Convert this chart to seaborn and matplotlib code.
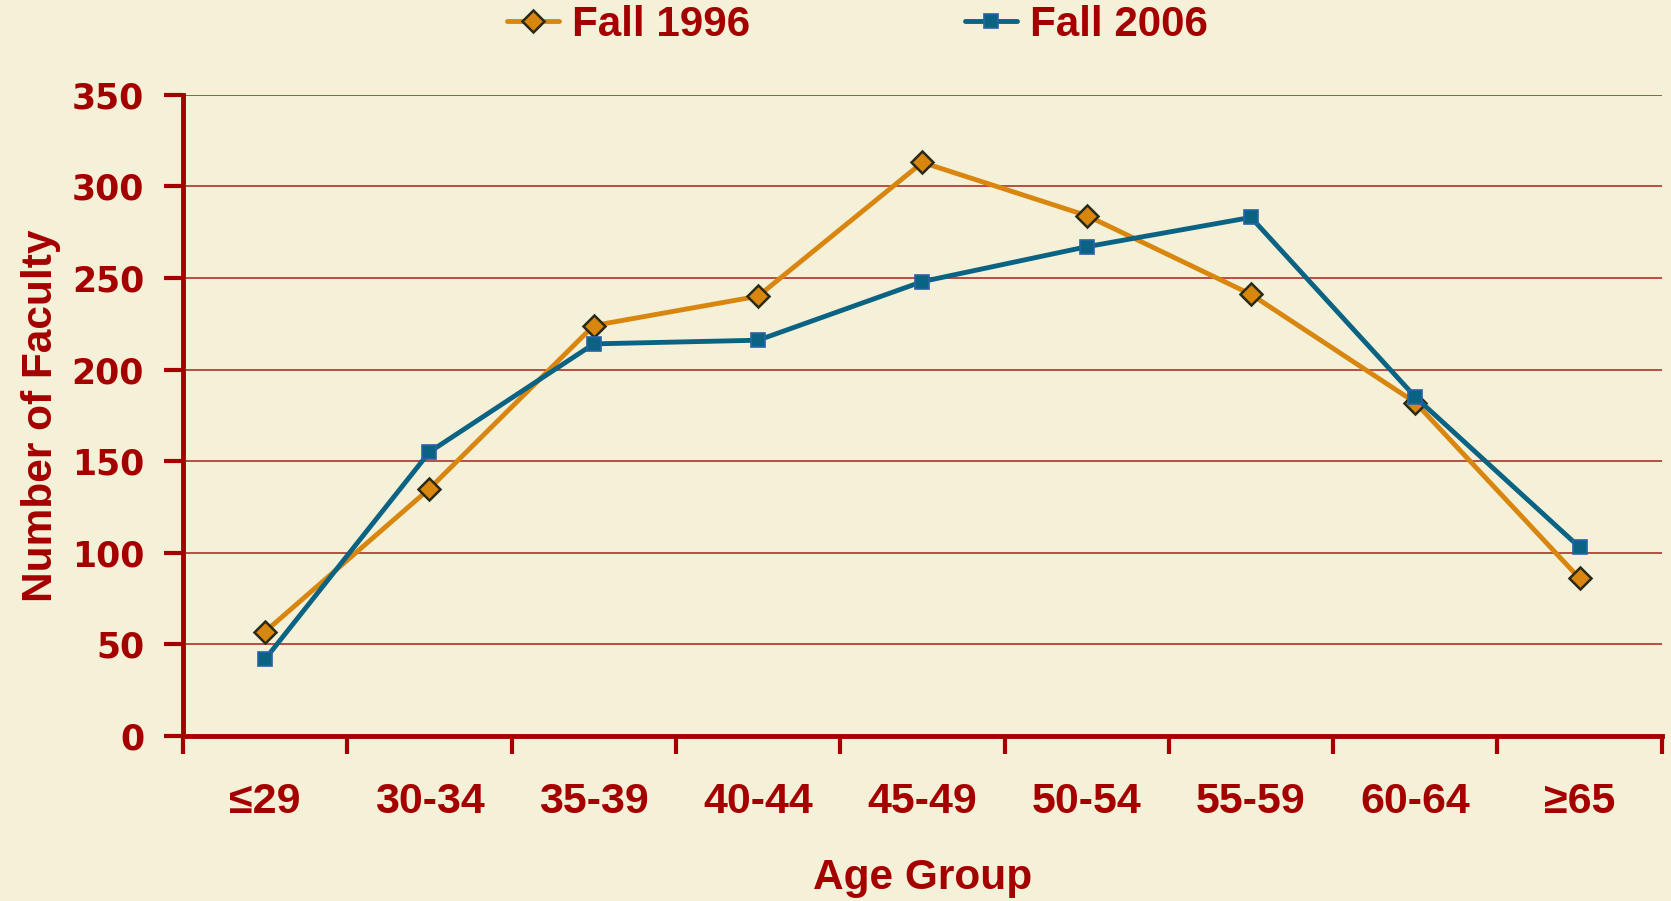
import numpy as np
import pandas as pd
import seaborn as sns
import matplotlib
matplotlib.use("Agg")
import matplotlib.pyplot as plt

# données
age_groups = ["≤29", "30-34", "35-39", "40-44", "45-49", "50-54", "55-59", "60-64", "≥65"]
fall_1996 = [57, 135, 224, 240, 313, 284, 241, 182, 86]
fall_2006 = [42, 155, 214, 216, 248, 267, 283, 185, 103]
y_ticks = [0, 50, 100, 150, 200, 250, 300, 350]

BG = "#F5F0D8"
RED = "#A50000"
ORANGE = "#D9860F"
BLUE = "#0B6383"

sns.set_theme(style="white")
plt.rcParams["font.family"] = ["Liberation Sans", "DejaVu Sans"]
plt.rcParams["font.weight"] = "bold"

df = pd.DataFrame({
    "pos": np.arange(len(age_groups)),
    "Fall 1996": fall_1996,
    "Fall 2006": fall_2006,
})

fig = plt.figure(figsize=(16.71, 9.01), dpi=100, facecolor=BG)
ax = fig.add_axes([0.1095, 0.183, 0.885, 0.712])
ax.set_facecolor(BG)

sns.lineplot(data=df, x="pos", y="Fall 1996", ax=ax, color=ORANGE, lw=3.5,
             marker="D", markersize=11.5, markerfacecolor=ORANGE,
             markeredgecolor="#2a2a18", markeredgewidth=1.8, label="Fall 1996")
sns.lineplot(data=df, x="pos", y="Fall 2006", ax=ax, color=BLUE, lw=3.5,
             marker="s", markersize=10.5, markerfacecolor=BLUE,
             markeredgecolor="#2a62a8", markeredgewidth=1.2, label="Fall 2006")

ax.set_xlim(-0.5, len(age_groups) - 0.5)
ax.set_ylim(0, 350)
ax.set_yticks(y_ticks)
ax.set_yticklabels([str(v) for v in y_ticks], family="DejaVu Sans",
                   fontweight="bold", fontsize=25, color=RED)
ax.yaxis.grid(True, color="#B0302A", lw=1.2)
ax.set_axisbelow(True)

# ticks aux frontières, étiquettes au centre
ax.set_xticks(np.arange(-0.5, len(age_groups), 1))
ax.set_xticklabels([])
ax.set_xticks(np.arange(len(age_groups)), minor=True)
ax.set_xticklabels(age_groups, minor=True, fontsize=31, fontweight="bold", color=RED)
ax.tick_params(axis="x", which="minor", length=0, pad=33)
ax.tick_params(axis="x", which="major", direction="out", length=13, width=3, color=RED, bottom=True)
ax.tick_params(axis="y", direction="out", length=14, width=3, color=RED, left=True, pad=14)

for s in ["top", "right"]:
    ax.spines[s].set_visible(False)
for s in ["left", "bottom"]:
    ax.spines[s].set_color(RED)
    ax.spines[s].set_linewidth(3.5)

ax.set_xlabel("Age Group", fontsize=30.5, fontweight="bold", color=RED, labelpad=26)
ax.set_ylabel("Number of Faculty", fontsize=30.5, fontweight="bold", color=RED, labelpad=8)

ax.get_legend().remove()
handles, labels = ax.get_legend_handles_labels()
leg = fig.legend(handles, labels, loc="center", bbox_to_anchor=(0.513, 0.972), ncol=2,
                 frameon=False, handlelength=1.25, columnspacing=5.1, handletextpad=0.3,
                 prop={"size": 30.3, "weight": "bold"})
for t in leg.get_texts():
    t.set_color(RED)

fig.savefig("out.png", dpi=100, facecolor=BG)
